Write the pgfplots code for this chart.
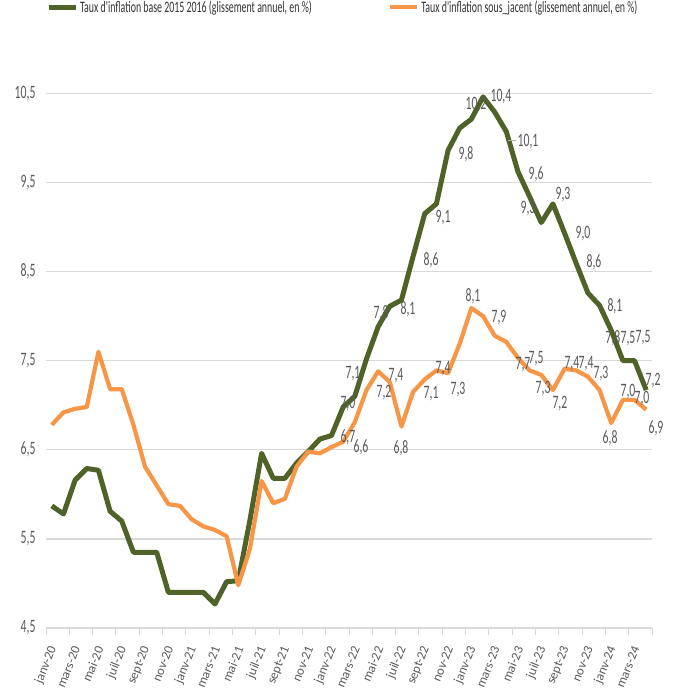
\documentclass[border=0pt]{standalone}
\usepackage{fontspec}
\setmainfont{Carlito}
\newfontfamily\narrowfont[FakeStretch=0.62]{Carlito}
\usepackage{pgfplots}
\pgfplotsset{compat=1.18}
\definecolor{cgreen}{HTML}{4F6228}
\definecolor{corange}{HTML}{F79646}
\definecolor{lblgray}{HTML}{595959}
\definecolor{gridgray}{HTML}{D9D9D9}
\begin{document}
\begin{tikzpicture}
\begin{axis}[
  at={(46bp,-628bp)}, anchor=south west,
  scale only axis, width=606bp, height=534.7bp,
  xmin=-0.5, xmax=51.5, ymin=4.5, ymax=10.5,
  clip=false,
  axis x line*=bottom, axis y line*=left,
  x axis line style={draw=gridgray, line width=1.3bp, -},
  y axis line style={draw=none, -},
  ytick={4.5,5.5,6.5,7.5,8.5,9.5,10.5},
  ymajorgrids, grid style={draw=gridgray, line width=1.3bp},
  yticklabel style={font=\fontsize{19}{19}\selectfont\narrowfont, text=lblgray, xshift=-7bp},
  /pgf/number format/.cd, use comma, fixed, fixed zerofill, precision=1, assume math mode=true, /pgfplots/.cd,
  xtick={0,2,...,50},
  xticklabels={janv-20,mars-20,mai-20,juil-20,sept-20,nov-20,janv-21,mars-21,mai-21,juil-21,sept-21,nov-21,janv-22,mars-22,mai-22,juil-22,sept-22,nov-22,janv-23,mars-23,mai-23,juil-23,sept-23,nov-23,janv-24,mars-24},
  xticklabel style={xshift=1.5bp, yshift=-19bp, rotate=68, anchor=east, inner sep=0pt, font=\fontsize{13}{13}\selectfont, text=lblgray},
  major tick length=0pt,
  minor xtick={-0.5,1.5,3.5,5.5,7.5,9.5,11.5,13.5,15.5,17.5,19.5,21.5,23.5,25.5,27.5,29.5,31.5,33.5,35.5,37.5,39.5,41.5,43.5,45.5,47.5,49.5,51.5},
  minor tick length=7bp,
  tick align=outside,
  minor tick style={draw=gridgray, line width=1bp},
  legend columns=2,
  legend style={at={(0.0,1.161)}, anchor=west, draw=none, fill=none, inner sep=0pt,
    font=\fontsize{16}{16}\selectfont\narrowfont, text=black!80},
  legend image code/.code={\draw[#1] (0bp,0bp) -- (27bp,0bp);},
  every node near coord/.style={font=\fontsize{19}{19}\selectfont\narrowfont, text=lblgray, anchor=center, inner sep=0pt},
]
\addplot[cgreen, line width=5bp, line join=round, mark=none] table[row sep=\\] {
x y\\
0 5.87\\ 1 5.78\\ 2 6.16\\ 3 6.29\\ 4 6.27\\ 5 5.81\\ 6 5.70\\ 7 5.35\\ 8 5.35\\ 9 5.35\\
10 4.90\\ 11 4.90\\ 12 4.90\\ 13 4.90\\ 14 4.77\\ 15 5.02\\ 16 5.03\\ 17 5.71\\ 18 6.46\\ 19 6.18\\
20 6.18\\ 21 6.35\\ 22 6.48\\ 23 6.62\\ 24 6.66\\ 25 6.98\\ 26 7.10\\ 27 7.52\\ 28 7.88\\ 29 8.11\\
30 8.18\\ 31 8.67\\ 32 9.15\\ 33 9.26\\ 34 9.86\\ 35 10.11\\ 36 10.21\\ 37 10.46\\ 38 10.29\\ 39 10.07\\
40 9.62\\ 41 9.34\\ 42 9.05\\ 43 9.26\\ 44 8.93\\ 45 8.59\\ 46 8.26\\ 47 8.12\\ 48 7.84\\ 49 7.50\\
50 7.50\\ 51 7.17\\
};
\addlegendentry{\makebox[306bp][l]{Taux d'inflation base 2015 2016 (glissement annuel, en \%)}}
\addplot[corange, line width=4.2bp, line join=round, mark=none] table[row sep=\\] {
x y\\
0 6.78\\ 1 6.92\\ 2 6.96\\ 3 6.98\\ 4 7.60\\ 5 7.18\\ 6 7.18\\ 7 6.78\\ 8 6.31\\ 9 6.10\\
10 5.89\\ 11 5.87\\ 12 5.72\\ 13 5.64\\ 14 5.60\\ 15 5.53\\ 16 4.98\\ 17 5.39\\ 18 6.15\\ 19 5.90\\
20 5.95\\ 21 6.31\\ 22 6.48\\ 23 6.46\\ 24 6.53\\ 25 6.59\\ 26 6.81\\ 27 7.17\\ 28 7.38\\ 29 7.26\\
30 6.76\\ 31 7.15\\ 32 7.29\\ 33 7.39\\ 34 7.36\\ 35 7.69\\ 36 8.09\\ 37 8.00\\ 38 7.78\\ 39 7.71\\
40 7.53\\ 41 7.39\\ 42 7.34\\ 43 7.17\\ 44 7.41\\ 45 7.39\\ 46 7.32\\ 47 7.17\\ 48 6.80\\ 49 7.06\\
50 7.06\\ 51 6.95\\
};
\addlegendentry{Taux d'inflation sous\_jacent (glissement annuel, en \%)}
% leader line
\addplot[forget plot, draw=gray!60, line width=0.8bp] coordinates {(39.14,9.976) (39.83,9.976)};
% data labels green
\addplot[forget plot, only marks, mark=none, nodes near coords, point meta=explicit symbolic] table[row sep=\\, meta=l] {
x y l\\
25.41 7.02 7,0\\
25.84 7.36 7,1\\
28.25 8.03 7,8\\
30.56 8.08 8,1\\
32.54 8.63 8,6\\
33.57 9.11 9,1\\
35.54 9.82 9,8\\
36.40 10.37 10,2\\
38.54 10.46 10,4\\
40.86 9.96 10,1\\
41.55 9.59 9,6\\
40.86 9.21 9,3\\
43.86 9.36 9,3\\
45.58 8.93 9,0\\
46.52 8.60 8,6\\
48.32 8.11 8,1\\
48.15 7.75 7,8\\
49.44 7.75 7,5\\
50.73 7.76 7,5\\
51.59 7.28 7,2\\
};
% data labels orange
\addplot[forget plot, only marks, mark=none, nodes near coords, point meta=explicit symbolic] table[row sep=\\, meta=l] {
x y l\\
25.41 6.64 6,7\\
26.53 6.53 6,6\\
28.50 7.14 7,2\\
29.53 7.33 7,4\\
29.96 6.52 6,8\\
32.54 7.13 7,1\\
33.57 7.41 7,4\\
34.85 7.17 7,3\\
36.14 8.225 8,1\\
38.37 7.98 7,9\\
40.43 7.45 7,7\\
41.55 7.52 7,5\\
42.15 7.19 7,3\\
43.60 7.02 7,2\\
44.63 7.47 7,4\\
45.84 7.47 7,4\\
47.12 7.36 7,3\\
47.90 6.63 6,8\\
49.44 7.15 7,0\\
50.64 7.08 7,0\\
51.84 6.74 6,9\\
};
\end{axis}
\pgfresetboundingbox
\path[use as bounding box] (0,0) rectangle (681bp,-691bp);
\end{tikzpicture}
\end{document}
